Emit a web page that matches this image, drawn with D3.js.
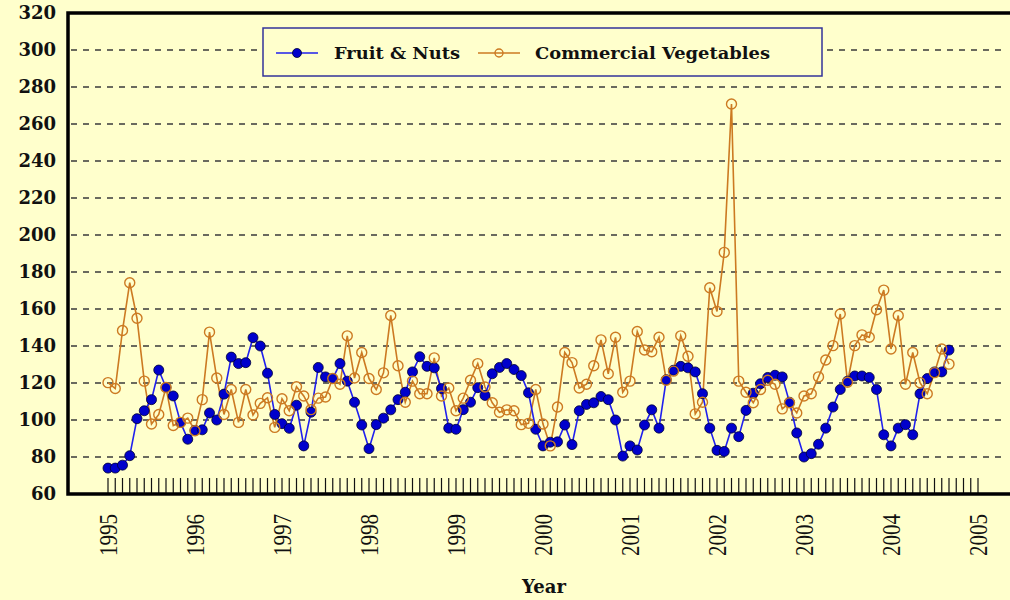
<!DOCTYPE html>
<html>
<head>
<meta charset="utf-8">
<script src="https://cdn.jsdelivr.net/npm/d3@7"></script>
<style>
  body { margin: 0; background: #ffffcc; }
  svg { display: block; }
</style>
</head>
<body>
<div id="chart"></div>
<script>
// monthly index values, Jan 1995 .. Sep 2004
var years = ["1995","1996","1997","1998","1999","2000","2001","2002","2003","2004","2005"];
var yTicks = [60,80,100,120,140,160,180,200,220,240,260,280,300,320];

var fruitNuts = [
  74, 74, 75.6, 80.7, 100.7, 105, 111, 127, 117.6, 113, 98.7, 89.6,
  94.4, 94.7, 103.8, 100, 114, 134, 130.5, 131, 144.5, 140, 125.3, 103,
  98, 95.5, 108, 86, 104.2, 128.4, 123.3, 122.4, 130.5, 121, 109.6, 97.3,
  84.5, 97.5, 101, 105.5, 111, 115, 126, 134.2, 129, 128.2, 117, 95.6,
  95, 105.6, 109.6, 117.5, 113.3, 125, 128.4, 130.5, 127.3, 124, 114.7, 95,
  86, 88, 88.2, 97.3, 86.7, 105, 108.4, 109.3, 112.7, 111, 100, 80.5,
  86, 83.8, 97.3, 105.5, 95.6, 121.8, 126.9, 129, 128.2, 126, 114.2, 95.6,
  83.6, 83, 95.6, 91, 105.2, 114.5, 119.6, 123, 124.2, 123.3, 109.6, 93,
  80, 81.8, 86.9, 95.6, 107, 116.5, 121, 123.8, 123.8, 123, 116.5, 92,
  86, 95.6, 97.5, 92, 114.2, 122.4, 126, 126, 137.8
];

var commercialVeg = [
  120.2, 117, 148.4, 174.2, 155, 121, 97.8, 103, 117.6, 97, 98.7, 101,
  94.2, 111, 147.5, 122.7, 103, 116.5, 98.7, 116.5, 102.7, 109, 112, 96,
  111.5, 105, 118, 113, 105.6, 111.8, 112.4, 122.4, 119.3, 145.5, 122.7, 136.5,
  122.4, 116.5, 125.5, 156.5, 129.3, 109.6, 121, 114.2, 114.2, 133.6, 113, 117.3,
  105, 111.8, 121.5, 130.5, 117.8, 109.3, 104.2, 105.5, 105, 97.5, 98.2, 116.5,
  97.8, 86, 107, 136.5, 131, 117.3, 119.3, 129.3, 143.3, 125, 144.7, 115,
  121, 147.8, 137.8, 136.9, 144.7, 121.5, 126.4, 145.5, 134.5, 103.3, 109.6, 171.5,
  158.7, 190.6, 270.8, 121, 115, 109.3, 116.5, 121.5, 119.3, 106, 109.3, 103.8,
  113, 114.2, 123.3, 132.4, 140.2, 157.3, 120.4, 140.2, 146, 144.7, 159.6, 170.2,
  138.4, 156.5, 119.3, 136.5, 120.2, 114.2, 125.6, 138.4, 130.2
];

var W = 1010, H = 600;
var frame = {left: 68, top: 13, bottom: 494, right: 1012};
var serif = "'Liberation Serif', 'Times New Roman', serif";
var wideSerif = "'DejaVu Serif', serif";
var blue = "#2020ee", blueDot = "#0000cc", orange = "#cc7a22";

var svg = d3.select("#chart").append("svg")
    .attr("width", W)
    .attr("height", H);

svg.append("rect").attr("width", W).attr("height", H).attr("fill", "#ffffcc");

// month index scale (0 = Jan 1995, 120 = Jan 2005)
var x = d3.scaleLinear().domain([0, 120]).range([108, 978]);
var y = d3.scaleLinear().domain([60, 320]).range([frame.bottom, frame.top]);

// dashed grid
svg.append("g")
  .selectAll("line")
  .data(yTicks.filter(function(d) { return d > 60 && d < 320; }))
  .enter().append("line")
    .attr("x1", frame.left + 3).attr("x2", 1004)
    .attr("y1", function(d) { return y(d); })
    .attr("y2", function(d) { return y(d); })
    .attr("stroke", "#3a3a3a")
    .attr("stroke-width", 1.6)
    .attr("stroke-dasharray", "6,6");

// y labels
svg.append("g")
  .selectAll("text")
  .data(yTicks)
  .enter().append("text")
    .attr("x", 56)
    .attr("y", function(d) { return y(d); })
    .attr("dy", "0.36em")
    .attr("text-anchor", "end")
    .attr("font-family", wideSerif)
    .attr("font-weight", "bold")
    .attr("font-size", 18)
    .attr("fill", "#111")
    .text(function(d) { return d; });

// month ticks
svg.append("g")
  .selectAll("line")
  .data(d3.range(0, 121))
  .enter().append("line")
    .attr("x1", function(d) { return x(d); })
    .attr("x2", function(d) { return x(d); })
    .attr("y1", frame.bottom - 16)
    .attr("y2", frame.bottom)
    .attr("stroke", "#111")
    .attr("stroke-width", 1.2);

// frame
svg.append("path")
    .attr("d", "M" + frame.right + "," + frame.top + "H" + frame.left + "V" + frame.bottom + "H" + frame.right)
    .attr("fill", "none")
    .attr("stroke", "#000")
    .attr("stroke-width", 3.5);

// year labels
svg.append("g")
  .selectAll("text")
  .data(years)
  .enter().append("text")
    .attr("transform", function(d, i) { return "translate(" + x(i * 12) + ",535) rotate(-90)"; })
    .attr("text-anchor", "middle")
    .attr("dy", "0.35em")
    .attr("font-family", serif)
    .attr("font-size", 25)
    .attr("textLength", 42)
    .attr("lengthAdjust", "spacingAndGlyphs")
    .attr("fill", "#111")
    .text(function(d) { return d; });

svg.append("text")
    .attr("x", 544).attr("y", 593)
    .attr("text-anchor", "middle")
    .attr("font-family", wideSerif)
    .attr("font-weight", "bold")
    .attr("font-size", 18)
    .attr("fill", "#111")
    .text("Year");

// series
var line = d3.line()
    .x(function(d, i) { return x(i); })
    .y(function(d) { return y(d); });

svg.append("path")
    .datum(commercialVeg)
    .attr("d", line)
    .attr("fill", "none")
    .attr("stroke", orange)
    .attr("stroke-width", 1.6);

svg.append("path")
    .datum(fruitNuts)
    .attr("d", line)
    .attr("fill", "none")
    .attr("stroke", blue)
    .attr("stroke-width", 1.6);

svg.append("g")
  .selectAll("circle")
  .data(fruitNuts)
  .enter().append("circle")
    .attr("cx", function(d, i) { return x(i); })
    .attr("cy", function(d) { return y(d); })
    .attr("r", 5)
    .attr("fill", blueDot)
    .attr("stroke", "#000033")
    .attr("stroke-width", 0.8);

svg.append("g")
  .selectAll("circle")
  .data(commercialVeg)
  .enter().append("circle")
    .attr("cx", function(d, i) { return x(i); })
    .attr("cy", function(d) { return y(d); })
    .attr("r", 5)
    .attr("fill", "none")
    .attr("stroke", orange)
    .attr("stroke-width", 1.4);

// legend
var legend = svg.append("g");
legend.append("rect")
    .attr("x", 263).attr("y", 28)
    .attr("width", 559).attr("height", 48)
    .attr("fill", "#ffffcc")
    .attr("stroke", "#333399")
    .attr("stroke-width", 1.5);

legend.append("line")
    .attr("x1", 276).attr("x2", 318).attr("y1", 53).attr("y2", 53)
    .attr("stroke", blue).attr("stroke-width", 1.6);
legend.append("circle")
    .attr("cx", 297).attr("cy", 53).attr("r", 4.5)
    .attr("fill", blueDot).attr("stroke", "#000033").attr("stroke-width", 0.8);
legend.append("text")
    .attr("x", 334).attr("y", 53).attr("dy", "0.36em")
    .attr("font-family", wideSerif).attr("font-weight", "bold").attr("font-size", 17)
    .attr("textLength", 126).attr("lengthAdjust", "spacingAndGlyphs")
    .attr("fill", "#111")
    .text("Fruit & Nuts");

legend.append("line")
    .attr("x1", 478).attr("x2", 520).attr("y1", 53).attr("y2", 53)
    .attr("stroke", orange).attr("stroke-width", 1.6);
legend.append("circle")
    .attr("cx", 499).attr("cy", 53).attr("r", 4)
    .attr("fill", "none").attr("stroke", orange).attr("stroke-width", 1.4);
legend.append("text")
    .attr("x", 535).attr("y", 53).attr("dy", "0.36em")
    .attr("font-family", wideSerif).attr("font-weight", "bold").attr("font-size", 17)
    .attr("textLength", 235).attr("lengthAdjust", "spacingAndGlyphs")
    .attr("fill", "#111")
    .text("Commercial Vegetables");
</script>
</body>
</html>
